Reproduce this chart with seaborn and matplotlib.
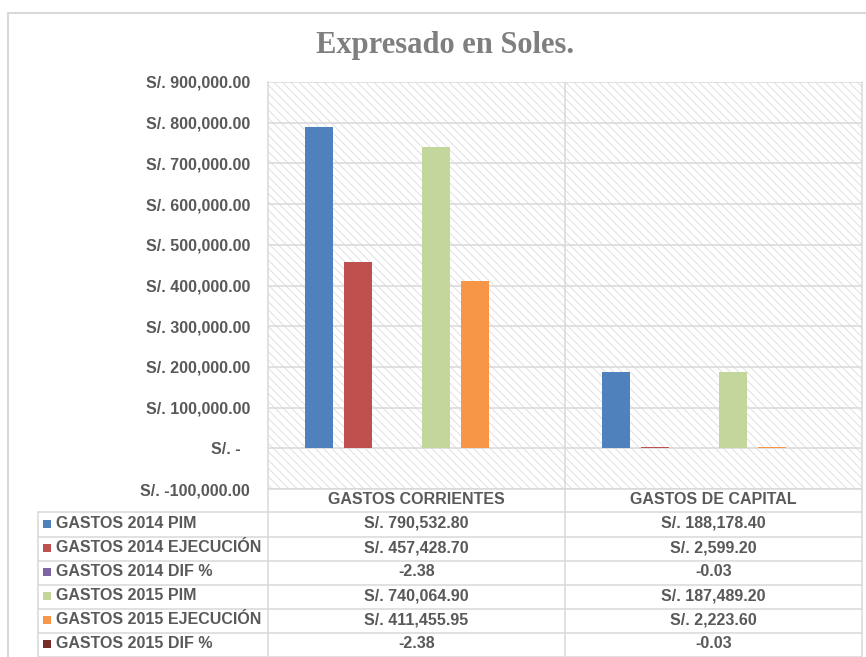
import matplotlib
matplotlib.use("Agg")
import matplotlib.pyplot as plt
from matplotlib.lines import Line2D
from matplotlib.patches import Rectangle
import seaborn as sns
import pandas as pd

# ---------------- data ----------------
categories = ["GASTOS CORRIENTES", "GASTOS DE CAPITAL"]
series = ["GASTOS 2014 PIM", "GASTOS 2014 EJECUCIÓN", "GASTOS 2014 DIF %",
          "GASTOS 2015 PIM", "GASTOS 2015 EJECUCIÓN", "GASTOS 2015 DIF %"]
pim_2014 = [790532.80, 188178.40]
ejec_2014 = [457428.70, 2599.20]
dif_2014 = [-2.38, -0.03]
pim_2015 = [740064.90, 187489.20]
ejec_2015 = [411455.95, 2223.60]
dif_2015 = [-2.38, -0.03]
series_values = [pim_2014, ejec_2014, dif_2014, pim_2015, ejec_2015, dif_2015]
is_money = [True, True, False, True, True, False]
colors = ["#4f81bd", "#c0504d", "#8064a2", "#c3d69b", "#f79646", "#772c2a"]
y_ticks = [-100000, 0, 100000, 200000, 300000, 400000, 500000, 600000, 700000, 800000, 900000]
title = "Expresado en Soles."

rows = []
for s, vals in zip(series, series_values):
    for c, v in zip(categories, vals):
        rows.append({"categoria": c, "serie": s, "valor": v})
df = pd.DataFrame(rows)

# ---------------- figure ----------------
W, H = 866, 657
sns.set_theme(style="white")
plt.rcParams["font.family"] = ["Liberation Sans", "DejaVu Sans"]
plt.rcParams["hatch.linewidth"] = 0.6
plt.rcParams["hatch.color"] = "#dcdcdc"

fig = plt.figure(figsize=(W / 100, H / 100), dpi=100)
fig.patch.set_facecolor("white")

def fx(x):
    return x / W

def fy(y):
    return 1 - y / H

grid_c = "#d9d9d9"
text_c = "#595959"

left, right, top, bottom = 268, 862, 82, 489
ax = fig.add_axes([fx(left), fy(bottom), fx(right - left), (bottom - top) / H])

# hatched background
ax.add_patch(Rectangle((0, 0), 1, 1, transform=ax.transAxes, facecolor="white",
                       edgecolor="#dcdcdc", hatch="\\\\\\\\", lw=0, zorder=0))

sns.barplot(data=df, x="categoria", y="valor", hue="serie", hue_order=series,
            order=categories, palette=colors, width=0.785, gap=0.28,
            saturation=1, legend=False, ax=ax, zorder=3, linewidth=0)

ax.set_xlim(-0.5, 1.5)
ax.set_ylim(-100000, 900000)
ax.set_yticks(y_ticks)

def fmt(v):
    if v == 0:
        return "S/. -  "
    return "S/. {:,.2f}".format(v)

ax.set_yticklabels([fmt(v) for v in y_ticks], fontsize=11.5, fontweight="bold",
                   color=text_c)
ax.tick_params(axis="y", length=0, pad=13)
ax.set_xticks([])
ax.set_xlabel("")
ax.set_ylabel("")
for yv in y_ticks:
    ax.axhline(yv, color=grid_c, lw=1.1, zorder=1)
ax.axvline(0.5, color=grid_c, lw=1.1, zorder=1)
for side in ["top", "right", "bottom"]:
    ax.spines[side].set_visible(False)
ax.spines["left"].set_color(grid_c)
ax.spines["left"].set_linewidth(1.1)

# title
fig.text(fx(445), fy(46), title, ha="center", va="center",
         family=["Liberation Serif", "DejaVu Serif"], fontsize=22,
         fontweight="bold", color="#7f7f7f")

# outer chart border
fig.add_artist(Line2D([fx(8), fx(8)], [fy(13), fy(H + 5)], transform=fig.transFigure,
                      color="#d9d9d9", lw=1.5))
fig.add_artist(Line2D([fx(8), fx(W + 5)], [fy(13), fy(13)], transform=fig.transFigure,
                      color="#d9d9d9", lw=1.5))

# ---------------- data table ----------------
row_lines = [512, 537, 561, 585, 609, 633, 657]
col_x = [38, 268, 565, 862]

def hline(y, x0, x1):
    fig.add_artist(Line2D([fx(x0), fx(x1)], [fy(y), fy(y)], transform=fig.transFigure,
                          color=grid_c, lw=1.1))

def vline(x, y0, y1):
    fig.add_artist(Line2D([fx(x), fx(x)], [fy(y0), fy(y1)], transform=fig.transFigure,
                          color=grid_c, lw=1.1))

hline(bottom, left, right)
for y in row_lines:
    hline(y, col_x[0], col_x[-1])
vline(col_x[0], row_lines[0], row_lines[-1])
vline(col_x[1], bottom, row_lines[-1])
vline(col_x[2], bottom, row_lines[-1])
vline(col_x[3], top, row_lines[-1])

tfont = dict(fontsize=11.5, fontweight="bold", color=text_c)
cat_centers = [(col_x[1] + col_x[2]) / 2, (col_x[2] + col_x[3]) / 2]
for cx, c in zip(cat_centers, categories):
    fig.text(fx(cx), fy(500), c, ha="center", va="center", **tfont)

for i, (s, vals, money, col) in enumerate(zip(series, series_values, is_money, colors)):
    yc = (row_lines[i] + row_lines[i + 1]) / 2 - 1
    fig.add_artist(Rectangle((fx(43), fy(yc + 4)), 8 / W, 8 / H, transform=fig.transFigure,
                             facecolor=col, edgecolor="none"))
    fig.text(fx(56), fy(yc), s, ha="left", va="center", **tfont)
    for cx, v in zip(cat_centers, vals):
        txt = "S/. {:,.2f}".format(v) if money else "{:.2f}".format(v)
        fig.text(fx(cx), fy(yc), txt, ha="center", va="center", **tfont)

fig.savefig("out.png", dpi=100, facecolor="white")
